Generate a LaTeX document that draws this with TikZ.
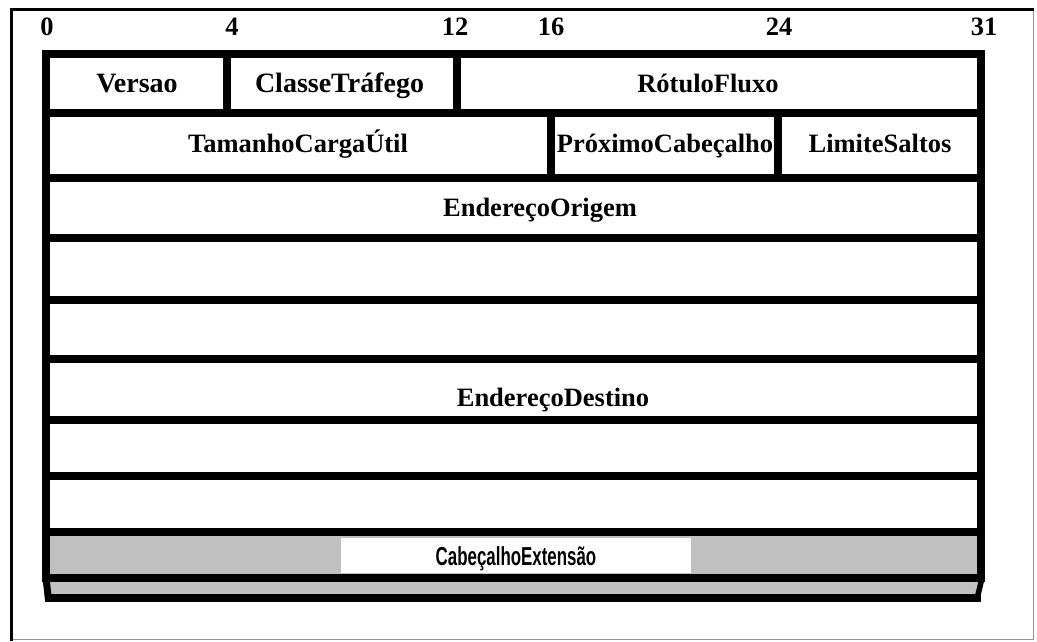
\documentclass[tikz,border=0pt]{standalone}
\usepackage{fontspec}
\setmainfont{Liberation Serif}
\newfontfamily\extfont{Liberation Sans}
\definecolor{cellgray}{RGB}{192,192,192}
\definecolor{framegray}{RGB}{150,150,150}
\begin{document}
\begin{tikzpicture}[x=1pt,y=-1pt,
  rule/.style={line width=8pt, line cap=rect},
  frameline/.style={line width=3pt, black},
  lightframe/.style={line width=1.2pt, framegray},
  lbl/.style={font=\fontsize{26.5}{30}\selectfont\bfseries, inner sep=0pt, anchor=base},
  biglbl/.style={lbl, font=\fontsize{28}{32}\selectfont\bfseries},
  extlbl/.style={font=\extfont\fontsize{26}{30}\selectfont\bfseries, inner sep=0pt, anchor=base}]
\useasboundingbox (0,0) rectangle (1037,641);
% outer frame
\draw[lightframe] (11,639.5) -- (1033.5,639.5) -- (1033.5,9);
\draw[frameline] (11,641) -- (11,9.5) -- (1034,9.5);
% gray extension row
\fill[cellgray] (46,532) rectangle (981,578);
\node[fill=white, minimum width=350pt, minimum height=35pt, inner sep=0pt, anchor=north west] (extbox) at (341,538) {};
% bottom strip
\fill[cellgray] (47,580) -- (982,580) -- (976,598) -- (49,598) -- cycle;
\draw[line width=7pt] (46,578) -- (48.5,600);
\draw[line width=5.5pt, line cap=round] (982,578) -- (977,599);
\draw[rule] (49,598) -- (977,598);
% table rows
\foreach \y in {54,112.5,178,238,300,359,419.5,476,531.5,578}
  \draw[rule] (46,\y) -- (981,\y);
\draw[rule] (46,54) -- (46,578);
\draw[rule] (981,54) -- (981,578);
% column dividers
\draw[line width=8pt] (227,54) -- (227,117);
\draw[line width=8pt] (457,54) -- (457,112.5);
\draw[line width=8pt] (551,112.5) -- (551,178);
\draw[line width=8pt] (778,112.5) -- (778,178);
% bit numbers
\node[lbl] (b0) at (47,35.5) {0};
\node[lbl] (b4) at (232,35.5) {4};
\node[lbl] (b12) at (455,35.5) {12};
\node[lbl] (b16) at (551,35.5) {16};
\node[lbl] (b24) at (779,35.5) {24};
\node[lbl] (b31) at (984,35.5) {31};
% labels
\node[biglbl] (versao) at (137,92) {Versao};
\node[biglbl] (classe) at (339.5,92) {ClasseTráfego};
\node[lbl] (rotulo) at (708,92) {RótuloFluxo};
\node[lbl] (tamanho) at (298,152) {TamanhoCargaÚtil};
\node[lbl] (proximo) at (665,152) {PróximoCabeçalho};
\node[lbl] (limite) at (880,152) {LimiteSaltos};
\node[lbl] (origem) at (540,216.5) {EndereçoOrigem};
\node[lbl] (destino) at (553,406) {EndereçoDestino};
\node[extlbl] (ext) at (516,565.5) {\scalebox{0.65}[1]{CabeçalhoExtensão}};
\end{tikzpicture}
\end{document}
